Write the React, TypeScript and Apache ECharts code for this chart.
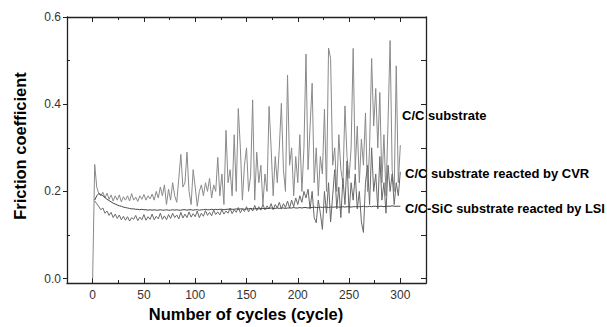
import React, { useEffect, useRef } from "react";
import * as echarts from "echarts";

// Friction coefficient sampled every 2 cycles (cycle = index * 2)
const cycleStep = 2;

const ccSubstrate: number[] = [
  0.0, 0.262, 0.21, 0.195, 0.19, 0.198, 0.185, 0.196, 0.182, 0.192,
  0.178, 0.19, 0.18, 0.192, 0.176, 0.188, 0.18, 0.19, 0.178, 0.195,
  0.18, 0.187, 0.177, 0.19, 0.182, 0.193, 0.18, 0.19, 0.183, 0.194,
  0.18, 0.2, 0.185, 0.21, 0.19, 0.215, 0.17, 0.205, 0.18, 0.22,
  0.19, 0.175, 0.23, 0.285, 0.21, 0.22, 0.29, 0.2, 0.17, 0.25,
  0.21, 0.166, 0.2, 0.215, 0.19, 0.22, 0.2, 0.23, 0.185, 0.215,
  0.2, 0.278, 0.19, 0.24, 0.17, 0.34, 0.22, 0.25, 0.19, 0.33,
  0.2, 0.39, 0.3, 0.18, 0.26, 0.3, 0.2, 0.235, 0.41, 0.18,
  0.29, 0.22, 0.26, 0.17, 0.24, 0.2, 0.395, 0.3, 0.19, 0.28,
  0.22, 0.3, 0.402, 0.25, 0.2, 0.467, 0.26, 0.3, 0.19, 0.28,
  0.22, 0.33, 0.2, 0.3, 0.515, 0.25, 0.35, 0.448, 0.22, 0.3,
  0.19, 0.28, 0.24, 0.389, 0.2, 0.529, 0.505, 0.26, 0.3, 0.2,
  0.33, 0.25, 0.22, 0.396, 0.28, 0.23, 0.3, 0.528, 0.25, 0.35,
  0.22, 0.32, 0.26, 0.38, 0.2, 0.3, 0.505, 0.35, 0.436, 0.3,
  0.427, 0.22, 0.33, 0.19, 0.36, 0.546, 0.25, 0.2, 0.488, 0.22,
  0.306,
];

const cvrSubstrate: (number | null)[] = [
  null, 0.178, 0.172, 0.165, 0.158, 0.162, 0.15, 0.155, 0.145, 0.152,
  0.14, 0.148, 0.138, 0.146, 0.135, 0.143, 0.134, 0.142, 0.132, 0.14,
  0.136, 0.145, 0.133, 0.141, 0.135, 0.147, 0.134, 0.142, 0.136, 0.148,
  0.135, 0.143, 0.137, 0.15, 0.136, 0.144, 0.135, 0.147, 0.138, 0.15,
  0.14, 0.146, 0.137, 0.152, 0.139, 0.148, 0.14, 0.153, 0.141, 0.149,
  0.142, 0.155, 0.14, 0.15, 0.143, 0.156, 0.145, 0.152, 0.144, 0.157,
  0.147, 0.153, 0.146, 0.158, 0.148, 0.155, 0.15, 0.161, 0.149, 0.158,
  0.152, 0.163, 0.151, 0.16, 0.154, 0.165, 0.153, 0.162, 0.155, 0.168,
  0.156, 0.165, 0.157, 0.17, 0.158, 0.167, 0.16, 0.172, 0.158, 0.17,
  0.162, 0.175, 0.16, 0.172, 0.163, 0.178, 0.162, 0.18, 0.165, 0.185,
  0.17, 0.19, 0.175, 0.2, 0.185, 0.205, 0.16, 0.2, 0.14, 0.128,
  0.18, 0.15, 0.113, 0.2, 0.15, 0.22, 0.13, 0.19, 0.25, 0.16,
  0.21, 0.14, 0.23, 0.17, 0.27, 0.15, 0.22, 0.18, 0.24, 0.16,
  0.2, 0.13, 0.106, 0.22, 0.26, 0.17, 0.3, 0.2, 0.24, 0.16,
  0.28, 0.18, 0.22, 0.15, 0.26, 0.2, 0.24, 0.17, 0.22, 0.19,
  0.245,
];

const lsiSubstrate: (number | null)[] = [
  null, 0.18, 0.19, 0.195, 0.193, 0.19, 0.186, 0.182, 0.179, 0.176,
  0.173, 0.171, 0.169, 0.167, 0.166, 0.164, 0.163, 0.162, 0.161, 0.16,
  0.16, 0.159, 0.159, 0.158, 0.159, 0.158, 0.158, 0.157, 0.158, 0.157,
  0.158, 0.157, 0.157, 0.158, 0.157, 0.157, 0.158, 0.157, 0.157, 0.158,
  0.157, 0.158, 0.157, 0.157, 0.158, 0.158, 0.157, 0.158, 0.158, 0.157,
  0.158, 0.158, 0.157, 0.158, 0.158, 0.159, 0.158, 0.158, 0.159, 0.158,
  0.159, 0.158, 0.159, 0.159, 0.158, 0.159, 0.159, 0.16, 0.159, 0.159,
  0.16, 0.159, 0.16, 0.16, 0.159, 0.16, 0.16, 0.161, 0.16, 0.16,
  0.161, 0.16, 0.161, 0.161, 0.16, 0.161, 0.161, 0.162, 0.161, 0.161,
  0.162, 0.161, 0.162, 0.162, 0.161, 0.162, 0.162, 0.162, 0.163, 0.162,
  0.162, 0.163, 0.162, 0.163, 0.163, 0.162, 0.163, 0.163, 0.164, 0.163,
  0.163, 0.164, 0.163, 0.164, 0.164, 0.163, 0.164, 0.164, 0.164, 0.165,
  0.164, 0.164, 0.165, 0.164, 0.165, 0.165, 0.164, 0.165, 0.165, 0.165,
  0.165, 0.165, 0.166, 0.165, 0.165, 0.166, 0.165, 0.166, 0.166, 0.165,
  0.166, 0.166, 0.165, 0.166, 0.166, 0.166, 0.167, 0.166, 0.166, 0.166,
  0.166,
];

const xLabelTicks = [0, 50, 100, 150, 200, 250, 300];
const xMinorTicks = [25, 75, 125, 175, 225, 275];
const yLabelTicks = [0, 0.2, 0.4, 0.6];
const yMinorTicks = [0.1, 0.3, 0.5];
const yRightTicks = [0, 0.1, 0.2, 0.3, 0.4, 0.5, 0.6];

const seriesNames = [
  "C/C substrate",
  "C/C substrate reacted by CVR",
  "C/C-SiC substrate reacted by LSI",
];
const xTitle = "Number of cycles (cycle)";
const yTitle = "Friction coefficient";

const FONT = '"Liberation Sans", Arial, Helvetica, sans-serif';
const AXIS_COLOR = "#222";

function toPairs(values: (number | null)[]) {
  const out: [number, number][] = [];
  values.forEach((v, i) => {
    if (v !== null) out.push([i * cycleStep, v]);
  });
  return out;
}

export default function App() {
  const ref = useRef<HTMLDivElement>(null);
  useEffect(() => {
    if (!ref.current) return;
    const chart = echarts.init(ref.current, undefined, { renderer: "svg" });
    const xBase = {
      type: "value",
      gridIndex: 0,
      min: -25,
      max: 325,
      splitLine: { show: false },
    };
    const yBase = {
      type: "value",
      gridIndex: 0,
      min: -0.01,
      max: 0.6,
      splitLine: { show: false },
    };
    const line = { show: true, onZero: false, lineStyle: { color: AXIS_COLOR, width: 1.3 } };
    const noLine = { show: false, onZero: false };
    chart.setOption({
      animation: false,
      backgroundColor: "#fff",
      grid: { left: 67, right: 181, top: 17, bottom: 44, outerBoundsMode: "none", containLabel: false },
      xAxis: [
        {
          ...xBase,
          position: "bottom",
          axisLine: line,
          axisTick: { show: true, inside: true, length: 5, customValues: xLabelTicks, lineStyle: { color: AXIS_COLOR } },
          axisLabel: { show: true, customValues: xLabelTicks, margin: 6, color: "#333", fontSize: 12, fontFamily: FONT },
        },
        {
          ...xBase,
          position: "top",
          axisLine: line,
          axisTick: { show: true, inside: true, length: 5, customValues: xLabelTicks, lineStyle: { color: AXIS_COLOR } },
          axisLabel: { show: false },
        },
        {
          ...xBase,
          position: "bottom",
          axisLine: noLine,
          axisTick: { show: true, inside: true, length: 3, customValues: xMinorTicks, lineStyle: { color: AXIS_COLOR } },
          axisLabel: { show: false },
        },
        {
          ...xBase,
          position: "top",
          axisLine: noLine,
          axisTick: { show: true, inside: true, length: 3, customValues: xMinorTicks, lineStyle: { color: AXIS_COLOR } },
          axisLabel: { show: false },
        },
      ],
      yAxis: [
        {
          ...yBase,
          position: "left",
          axisLine: line,
          axisTick: { show: true, inside: false, length: 4, customValues: yLabelTicks, lineStyle: { color: AXIS_COLOR } },
          axisLabel: {
            show: true,
            customValues: yLabelTicks,
            margin: 6,
            color: "#333",
            fontSize: 12,
            fontFamily: FONT,
            formatter: (v: number) => v.toFixed(1),
          },
        },
        {
          ...yBase,
          position: "right",
          axisLine: line,
          axisTick: { show: true, inside: true, length: 5, customValues: yRightTicks, lineStyle: { color: AXIS_COLOR } },
          axisLabel: { show: false },
        },
        {
          ...yBase,
          position: "left",
          axisLine: noLine,
          axisTick: { show: true, inside: true, length: 3, customValues: yMinorTicks, lineStyle: { color: AXIS_COLOR } },
          axisLabel: { show: false },
        },
      ],
      series: [
        {
          name: seriesNames[0],
          type: "line",
          xAxisIndex: 0,
          yAxisIndex: 0,
          showSymbol: false,
          symbol: "none",
          lineStyle: { color: "#8a8a8a", width: 1 },
          data: toPairs(ccSubstrate),
          z: 2,
        },
        {
          name: seriesNames[1],
          type: "line",
          xAxisIndex: 0,
          yAxisIndex: 0,
          showSymbol: false,
          symbol: "none",
          lineStyle: { color: "#6a6a6a", width: 1 },
          data: toPairs(cvrSubstrate),
          z: 3,
        },
        {
          name: seriesNames[2],
          type: "line",
          xAxisIndex: 0,
          yAxisIndex: 0,
          showSymbol: false,
          symbol: "none",
          lineStyle: { color: "#444", width: 1 },
          data: toPairs(lsiSubstrate),
          z: 4,
        },
      ],
      graphic: [
        {
          type: "text",
          x: 20,
          y: 146,
          rotation: Math.PI / 2,
          style: { text: yTitle, font: `bold 16.5px ${FONT}`, fill: "#000", textAlign: "center", textVerticalAlign: "middle" },
        },
        {
          type: "text",
          x: 246,
          y: 314,
          style: { text: xTitle, font: `bold 16.5px ${FONT}`, fill: "#000", textAlign: "center", textVerticalAlign: "middle" },
        },
        {
          type: "text",
          x: 402,
          y: 115,
          style: { text: seriesNames[0], font: `bold 13px ${FONT}`, fill: "#000", textAlign: "left", textVerticalAlign: "middle" },
        },
        {
          type: "text",
          x: 405,
          y: 173,
          style: { text: seriesNames[1], font: `bold 13px ${FONT}`, fill: "#000", textAlign: "left", textVerticalAlign: "middle" },
        },
        {
          type: "text",
          x: 405,
          y: 208,
          style: { text: seriesNames[2], font: `bold 12.8px ${FONT}`, fill: "#000", textAlign: "left", textVerticalAlign: "middle" },
        },
      ],
    });
    return () => chart.dispose();
  }, []);
  return <div ref={ref} style={{ position: "fixed", left: 0, top: 0, width: 607, height: 327 }} />;
}
